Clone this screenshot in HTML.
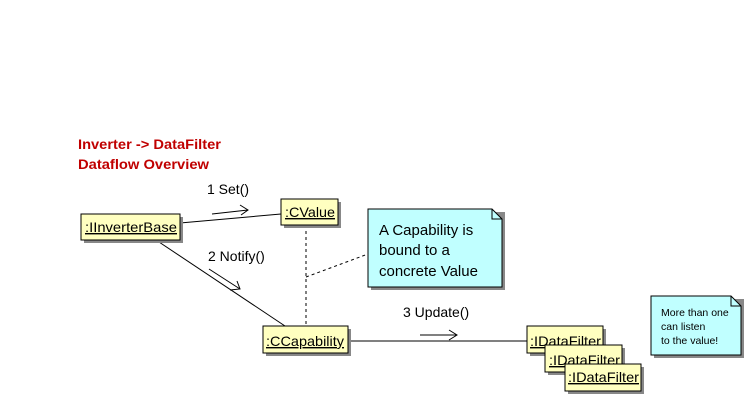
<!DOCTYPE html>
<html><head><meta charset="utf-8"><style>
body{margin:0;background:#fff;width:753px;height:405px;overflow:hidden}
</style></head><body>
<svg width="753" height="405" xmlns="http://www.w3.org/2000/svg" font-family="Liberation Sans, sans-serif">
<rect width="753" height="405" fill="#fff"/>
<text x="78" y="149" font-size="14" font-weight="bold" fill="#c00000" textLength="143" lengthAdjust="spacingAndGlyphs">Inverter -&gt; DataFilter</text>
<text x="78" y="169" font-size="14" font-weight="bold" fill="#c00000" textLength="131" lengthAdjust="spacingAndGlyphs">Dataflow Overview</text>
<g stroke="#000" stroke-width="1" fill="none">
<line x1="180" y1="223" x2="281" y2="214"/>
<line x1="156" y1="240" x2="285" y2="326"/>
<line x1="348" y1="341" x2="527" y2="341"/>
<line x1="306" y1="225" x2="306" y2="326" stroke-dasharray="3,3"/>
<line x1="306" y1="277" x2="368" y2="254" stroke-dasharray="3,3"/>
<line x1="212" y1="214" x2="248" y2="210"/><polyline points="240,205 248,210 241,215"/>
<line x1="209" y1="269" x2="240" y2="289"/><polyline points="230,290 240,289 237,281"/>
<line x1="420" y1="335" x2="457" y2="335"/><polyline points="449,330 457,335 449,340"/>
</g>
<text x="207" y="194" font-size="14">1 Set()</text>
<text x="208" y="261" font-size="14">2 Notify()</text>
<text x="403" y="317" font-size="14">3 Update()</text>
<g font-size="14" text-decoration="underline">
<rect x="84" y="217" width="99" height="26" fill="#888"/><rect x="81" y="214" width="99" height="26" fill="#ffffc0" stroke="#000"/>
<text x="85" y="232" textLength="92" lengthAdjust="spacingAndGlyphs">:IInverterBase</text>
<rect x="284" y="202" width="57" height="26" fill="#888"/><rect x="281" y="199" width="57" height="26" fill="#ffffc0" stroke="#000"/>
<text x="285" y="217" textLength="50" lengthAdjust="spacingAndGlyphs">:CValue</text>
<rect x="266" y="329" width="85" height="27" fill="#888"/><rect x="263" y="326" width="85" height="27" fill="#ffffc0" stroke="#000"/>
<text x="266" y="346" textLength="78" lengthAdjust="spacingAndGlyphs">:CCapability</text>
<rect x="530" y="329" width="76" height="27" fill="#888"/><rect x="527" y="326" width="76" height="27" fill="#ffffc0" stroke="#000"/>
<text x="530" y="346" textLength="71" lengthAdjust="spacingAndGlyphs">:IDataFilter</text>
<rect x="548" y="348" width="77" height="27" fill="#888"/><rect x="545" y="345" width="77" height="27" fill="#ffffc0" stroke="#000"/>
<text x="549" y="365" textLength="71" lengthAdjust="spacingAndGlyphs">:IDataFilter</text>
<rect x="568" y="367" width="76" height="27" fill="#888"/><rect x="565" y="364" width="76" height="27" fill="#ffffc0" stroke="#000"/>
<text x="568" y="382" textLength="71" lengthAdjust="spacingAndGlyphs">:IDataFilter</text>
</g>
<polygon points="371,212 505,212 505,290 371,290" fill="#888"/>
<polygon points="368,209 492,209 502,219 502,287 368,287" fill="#c0ffff" stroke="#000"/>
<polyline points="492,209 492,219 502,219" fill="none" stroke="#000"/>
<text x="379" y="235" font-size="15">A Capability is</text>
<text x="379" y="255" font-size="15">bound to a</text>
<text x="379" y="276" font-size="15">concrete Value</text>
<polygon points="654,299 744,299 744,358 654,358" fill="#888"/>
<polygon points="651,296 731,296 741,306 741,355 651,355" fill="#c0ffff" stroke="#000"/>
<polyline points="731,296 731,306 741,306" fill="none" stroke="#000"/>
<text x="661" y="316" font-size="10.5">More than one</text>
<text x="661" y="330" font-size="10.5">can listen</text>
<text x="661" y="344" font-size="10.5">to the value!</text>
</svg>
</body></html>
